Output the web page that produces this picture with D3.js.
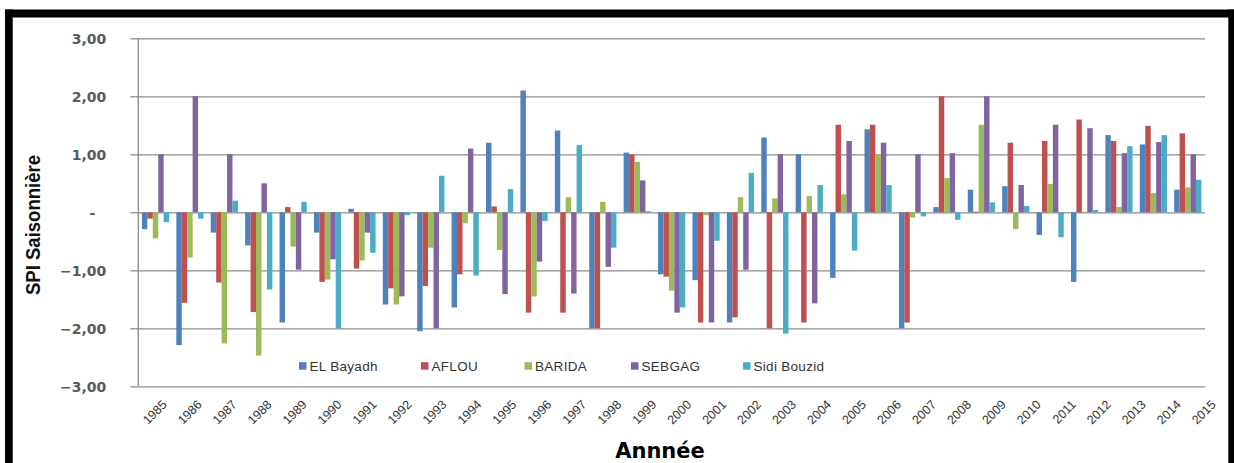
<!DOCTYPE html>
<html>
<head>
<meta charset="utf-8">
<script src="https://cdn.jsdelivr.net/npm/d3@7/dist/d3.min.js"></script>
<style>
  html, body { margin: 0; padding: 0; background: #fff; }
  svg { display: block; }
</style>
</head>
<body>
<svg id="chart" width="1234" height="463"></svg>
<script>
// Seasonal SPI per station, 1985-2015
const years = ["1985","1986","1987","1988","1989","1990","1991","1992","1993","1994",
  "1995","1996","1997","1998","1999","2000","2001","2002","2003","2004",
  "2005","2006","2007","2008","2009","2010","2011","2012","2013","2014","2015"];

const stations = ["EL Bayadh", "AFLOU", "BARIDA", "SEBGAG", "Sidi Bouzid"];
const stationColors = ["#4F81BD", "#C0504D", "#9BBB59", "#8064A2", "#4BACC6"];

const elBayadh = [-0.29,-2.29,-0.35,-0.57,-1.90,-0.35,0.06,-1.59,-2.05,-1.64,
  1.20,2.10,1.41,-2.00,1.03,-1.07,-1.17,-1.90,1.29,1.00,
  -1.13,1.43,-2.00,0.09,0.39,0.45,-0.39,-1.20,1.33,1.17,0.39];
const aflou = [-0.11,-1.56,-1.21,-1.72,0.09,-1.20,-0.97,-1.31,-1.27,-1.07,
  0.10,-1.73,-1.73,-2.00,1.00,-1.11,-1.90,-1.81,-2.00,-1.90,
  1.51,1.51,-1.90,2.00,0.01,1.20,1.23,1.60,1.23,1.49,1.36];
const barida = [-0.45,-0.78,-2.26,-2.47,-0.59,-1.16,-0.83,-1.59,-0.61,-0.19,
  -0.65,-1.45,0.26,0.18,0.87,-1.35,-0.05,0.26,0.24,0.28,
  0.31,1.00,-0.09,0.59,1.51,-0.29,0.49,0.01,0.09,0.33,0.43];
const sebgag = [1.00,2.00,1.00,0.50,-0.99,-0.81,-0.35,-1.45,-2.00,1.10,
  -1.41,-0.85,-1.40,-0.94,0.55,-1.73,-1.90,-0.99,1.00,-1.57,
  1.23,1.20,1.00,1.02,2.00,0.47,1.51,1.45,1.02,1.21,1.00];
const sidiBouzid = [-0.17,-0.11,0.20,-1.33,0.18,-2.00,-0.70,-0.05,0.63,-1.09,
  0.40,-0.15,1.16,-0.61,0.02,-1.64,-0.49,0.68,-2.09,0.47,
  -0.66,0.47,-0.07,-0.13,0.17,0.11,-0.43,0.04,1.14,1.33,0.56];

const yTicks = [3, 2, 1, 0, -1, -2, -3];

const seriesValues = [elBayadh, aflou, barida, sebgag, sidiBouzid];

const svg = d3.select("#chart");

// Outer black frame (open at the bottom)
const frame = svg.append("g");
frame.append("rect").attr("x", 5).attr("y", 9.5).attr("width", 1229).attr("height", 8).attr("fill", "#000");
frame.append("rect").attr("x", 5).attr("y", 9.5).attr("width", 7.7).attr("height", 454).attr("fill", "#000");
frame.append("rect").attr("x", 1228.3).attr("y", 9.5).attr("width", 6).attr("height", 454).attr("fill", "#000");

const plot = { left: 138.3, right: 1205, top: 38.3, bottom: 386.3 };

const y = d3.scaleLinear().domain([-3, 3]).range([plot.bottom, plot.top]);
const x = d3.scaleBand().domain(years).range([plot.left, plot.right])
  .paddingInner(0.21).paddingOuter(0.105);
const xs = d3.scaleBand().domain(stations).range([0, x.bandwidth()]);
// Anchor points for the slanted year labels (their upper-right ends)
const xLabel = d3.scalePoint().domain(years).range([164, 1213]);

// Gridlines with short outer ticks
const yAxis = d3.axisLeft(y).tickValues(yTicks)
  .tickSize(-(plot.right - plot.left))
  .tickSizeOuter(0)
  .tickPadding(0)
  .tickFormat(d => d === 0 ? "-" : d3.format(".2f")(d).replace(".", ","));

const gy = svg.append("g").attr("transform", `translate(${plot.left},0)`).call(yAxis);
gy.select(".domain").remove();
gy.selectAll(".tick line").attr("stroke", "#8c8c8c").attr("stroke-width", 1.3);
gy.selectAll(".tick").append("line")
  .attr("x1", -8).attr("x2", 0).attr("stroke", "#8c8c8c").attr("stroke-width", 1.3);
gy.selectAll(".tick text")
  .attr("x", d => d === 0 ? -43 : -32)
  .attr("dy", "0.35em")
  .attr("fill", "#595959")
  .style("font-family", "'DejaVu Sans', Verdana, sans-serif")
  .style("font-weight", "bold")
  .style("font-size", "14px");

// Vertical axis line
svg.append("line")
  .attr("x1", plot.left).attr("x2", plot.left)
  .attr("y1", plot.top).attr("y2", plot.bottom)
  .attr("stroke", "#8c8c8c").attr("stroke-width", 1.3);

// Bars
const groups = svg.append("g").selectAll("g")
  .data(years)
  .join("g")
  .attr("transform", d => `translate(${x(d)},0)`);

groups.selectAll("rect")
  .data((d, i) => stations.map((s, k) => ({ station: s, k, value: seriesValues[k][i] })))
  .join("rect")
  .attr("x", d => xs(d.station))
  .attr("width", xs.bandwidth())
  .attr("y", d => y(Math.max(0, d.value)))
  .attr("height", d => Math.max(0.8, Math.abs(y(d.value) - y(0))))
  .attr("fill", d => stationColors[d.k]);

// Category labels, rotated
const xAxis = d3.axisBottom(xLabel).tickSize(0).tickPadding(0);
const gx = svg.append("g").attr("transform", `translate(0,${plot.bottom})`).call(xAxis);
gx.select(".domain").remove();
gx.selectAll(".tick text")
  .attr("text-anchor", "end")
  .attr("transform", "translate(0,16) rotate(-45)")
  .attr("dy", "0.35em")
  .attr("fill", "#333")
  .style("font-family", "'Liberation Sans', Arial, sans-serif")
  .style("font-size", "12.5px");

// Legend
const legend = svg.append("g");
const legendX = [299, 421, 524.5, 631, 743];
stations.forEach((s, k) => {
  const g = legend.append("g").attr("transform", `translate(${legendX[k]},366)`);
  g.append("rect").attr("x", 0).attr("y", -3.8).attr("width", 7.5).attr("height", 7.5)
    .attr("fill", stationColors[k]);
  g.append("text").attr("x", 10.5).attr("y", 0).attr("dy", "0.35em")
    .attr("fill", "#333")
    .style("font-family", "'Liberation Sans', Arial, sans-serif")
    .style("font-size", "13.5px")
    .style("letter-spacing", "0.3px")
    .text(s);
});

// Axis titles
svg.append("text")
  .attr("x", 660).attr("y", 458)
  .attr("text-anchor", "middle")
  .attr("fill", "#000")
  .style("font-family", "'DejaVu Sans', Verdana, sans-serif")
  .style("font-weight", "bold")
  .style("font-size", "21px")
  .text("Annnée");

svg.append("text")
  .attr("transform", "translate(40,225) rotate(-90)")
  .attr("text-anchor", "middle")
  .attr("fill", "#111")
  .style("font-family", "'Liberation Sans Narrow', 'Liberation Sans', sans-serif")
  .style("font-weight", "bold")
  .style("font-size", "21px")
  .attr("textLength", 140)
  .attr("lengthAdjust", "spacingAndGlyphs")
  .text("SPI Saisonnière");
</script>
</body>
</html>
